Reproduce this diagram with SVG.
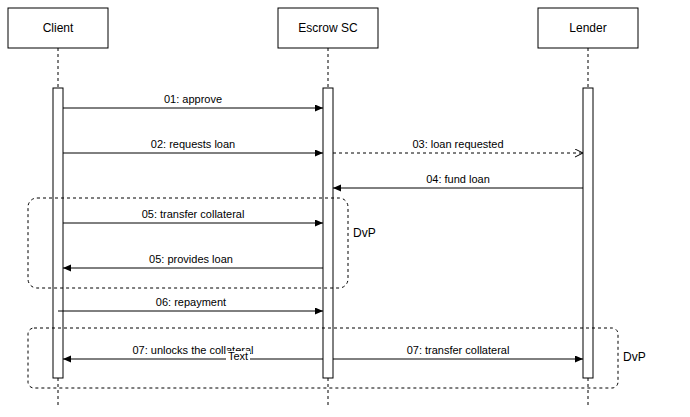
<svg xmlns="http://www.w3.org/2000/svg" width="690" height="417" viewBox="0 0 690 417">
<style>
.box{fill:#fff;stroke:#000;stroke-width:1}
.life{stroke:#000;stroke-width:1;stroke-dasharray:3,3;fill:none}
.act{fill:#fff;stroke:#000;stroke-width:1}
.msg{stroke:#000;stroke-width:1;fill:none}
.dash{stroke-dasharray:3,3}
.frame{fill:none;stroke:#000;stroke-width:1;stroke-dasharray:3,3}
.name{font-family:"Liberation Sans",Arial,sans-serif;font-size:12px;fill:#000;text-anchor:middle}
.lbl{font-family:"Liberation Sans",Arial,sans-serif;font-size:11px;fill:#000;text-anchor:middle}
.dvp{font-family:"Liberation Sans",Arial,sans-serif;font-size:12px;fill:#000}
</style>
<defs>
<marker id="block" markerUnits="userSpaceOnUse" markerWidth="9" markerHeight="8" refX="8" refY="3.5" orient="auto">
<path d="M0,0 L8,3.5 L0,7 z" fill="#000"/>
</marker>
<marker id="open" markerUnits="userSpaceOnUse" markerWidth="10" markerHeight="10" refX="8.5" refY="4.5" orient="auto">
<path d="M0.5,0.5 L8.5,4.5 L0.5,8.5" fill="none" stroke="#000" stroke-width="1"/>
</marker>
</defs>
<rect width="690" height="417" fill="#fff"/>
<g id="client">
<line class="life" x1="58" y1="48" x2="58" y2="405"/>
<rect class="box" x="8" y="8" width="100" height="40"/>
<text class="name" x="58" y="32.3">Client</text>
<rect class="act" x="53" y="88" width="10" height="290"/>
</g>
<g id="escrow">
<line class="life" x1="328" y1="48" x2="328" y2="405"/>
<rect class="box" x="278" y="8" width="100" height="40"/>
<text class="name" x="328" y="32.3">Escrow SC</text>
<rect class="act" x="323" y="88" width="10" height="290"/>
</g>
<g id="lender">
<line class="life" x1="588" y1="48" x2="588" y2="405"/>
<rect class="box" x="538" y="8" width="100" height="40"/>
<text class="name" x="588" y="32.3">Lender</text>
<rect class="act" x="583" y="88" width="10" height="290"/>
</g>
<g id="connectors">
<line class="msg" x1="63" y1="108" x2="323" y2="108" marker-end="url(#block)"/>
<text class="lbl" x="193" y="103">01: approve</text>
<line class="msg" x1="63" y1="153" x2="323" y2="153" marker-end="url(#block)"/>
<text class="lbl" x="193" y="148">02: requests loan</text>
<line class="msg dash" x1="333" y1="153" x2="583" y2="153" marker-end="url(#open)"/>
<text class="lbl" x="458" y="148">03: loan requested</text>
<line class="msg" x1="583" y1="188" x2="333" y2="188" marker-end="url(#block)"/>
<text class="lbl" x="458" y="183">04: fund loan</text>
<line class="msg" x1="63" y1="223" x2="323" y2="223" marker-end="url(#block)"/>
<text class="lbl" x="193" y="218">05: transfer collateral</text>
<line class="msg" x1="323" y1="268" x2="63" y2="268" marker-end="url(#block)"/>
<text class="lbl" x="191" y="263">05: provides loan</text>
<line class="msg" x1="58" y1="311" x2="323" y2="311" marker-end="url(#block)"/>
<text class="lbl" x="191" y="306">06: repayment</text>
<line class="msg" x1="323" y1="359" x2="63" y2="359" marker-end="url(#block)"/>
<text class="lbl" x="193" y="354">07: unlocks the collateral</text>
<rect x="226" y="351" width="24" height="12" fill="#fff"/>
<text class="lbl" x="238" y="360">Text</text>
<line class="msg" x1="333" y1="359" x2="583" y2="359" marker-end="url(#block)"/>
<text class="lbl" x="458" y="354">07: transfer collateral</text>
</g>
<g id="dvp1">
<rect class="frame" x="28" y="198" width="320" height="90" rx="9" ry="9"/>
<text class="dvp" x="353" y="237">DvP</text>
</g>
<g id="dvp2">
<rect class="frame" x="28" y="328" width="590" height="60" rx="6" ry="6"/>
<text class="dvp" x="623" y="361">DvP</text>
</g>
</svg>
